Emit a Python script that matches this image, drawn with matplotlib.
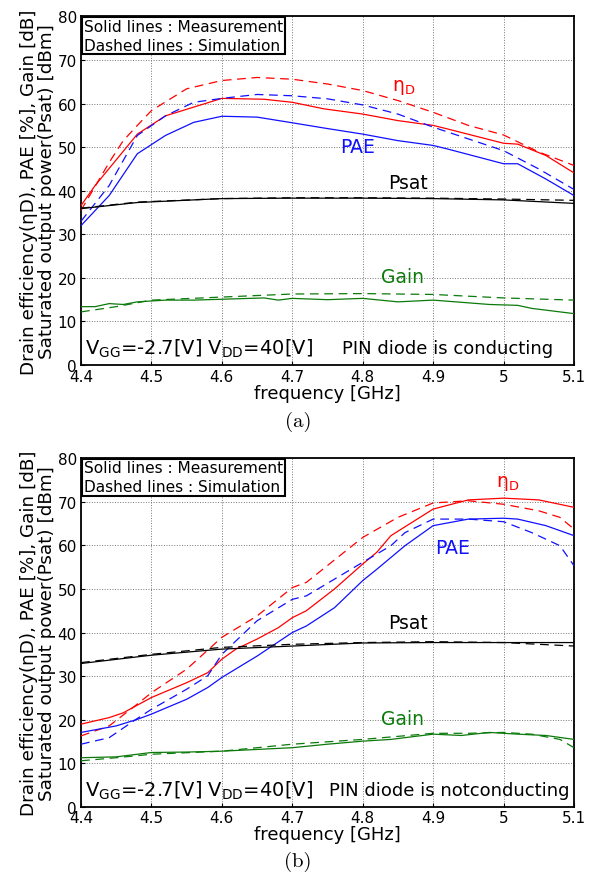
import numpy as np
import matplotlib
matplotlib.use("Agg")
import matplotlib.pyplot as plt

# ---- panel (a): PIN diode conducting ----
a_eta_f = [4.40, 4.42, 4.48, 4.52, 4.60, 4.66, 4.70, 4.745, 4.80, 4.85, 4.90, 4.92, 5.00, 5.02, 5.06, 5.10]
a_eta_m = [36.6, 41.2, 53.0, 57.2, 61.2, 61.0, 60.3, 58.8, 57.6, 56.1, 55.0, 54.2, 50.9, 50.7, 48.1, 44.1]
a_eta_sf = [4.40, 4.42, 4.44, 4.46, 4.48, 4.50, 4.55, 4.60, 4.65, 4.70, 4.75, 4.80, 4.85, 4.90, 4.95, 5.00, 5.05, 5.10]
a_eta_s = [35.5, 41.0, 46.5, 51.5, 55.0, 58.4, 63.4, 65.3, 66.0, 65.6, 64.5, 63.0, 60.7, 58.0, 55.0, 52.8, 48.9, 45.8]

a_pae_f = [4.40, 4.44, 4.48, 4.52, 4.56, 4.60, 4.65, 4.70, 4.745, 4.80, 4.85, 4.90, 4.92, 5.00, 5.02, 5.06, 5.10]
a_pae_m = [32.0, 38.9, 48.5, 52.7, 55.7, 57.1, 56.9, 55.6, 54.4, 53.0, 51.5, 50.4, 49.6, 46.2, 46.2, 42.7, 38.9]
a_pae_sf = [4.40, 4.44, 4.48, 4.52, 4.56, 4.60, 4.65, 4.70, 4.75, 4.80, 4.85, 4.90, 4.95, 5.00, 5.05, 5.10]
a_pae_s = [33.0, 41.2, 52.7, 57.2, 60.3, 61.2, 62.1, 61.8, 61.1, 59.7, 57.6, 54.6, 51.9, 49.2, 45.0, 40.3]

a_psat_f = [4.40, 4.48, 4.60, 4.70, 4.80, 4.90, 5.00, 5.10]
a_psat_m = [35.9, 37.3, 38.2, 38.3, 38.3, 38.2, 37.9, 37.1]
a_psat_s = [36.0, 37.4, 38.2, 38.4, 38.4, 38.3, 38.1, 37.8]

a_gain_f = [4.40, 4.42, 4.44, 4.46, 4.48, 4.52, 4.56, 4.60, 4.66, 4.68, 4.70, 4.75, 4.80, 4.85, 4.90, 4.94, 4.98, 5.02, 5.04, 5.10]
a_gain_m = [13.4, 13.4, 14.1, 13.9, 14.5, 14.9, 14.9, 15.1, 15.4, 14.9, 15.3, 15.0, 15.3, 14.5, 14.9, 14.4, 13.9, 13.7, 13.0, 11.8]
a_gain_sf = [4.40, 4.45, 4.50, 4.60, 4.70, 4.80, 4.90, 5.00, 5.10]
a_gain_s = [12.2, 13.4, 14.9, 15.6, 16.3, 16.4, 16.2, 15.4, 14.9]

# ---- panel (b): PIN diode not conducting ----
b_eta_f = [4.40, 4.44, 4.46, 4.50, 4.55, 4.58, 4.60, 4.62, 4.65, 4.68, 4.70, 4.72, 4.76, 4.80, 4.82, 4.84, 4.90, 4.95, 5.00, 5.05, 5.10]
b_eta_m = [19.0, 20.5, 21.6, 25.1, 28.5, 30.8, 33.9, 36.2, 38.5, 41.1, 43.4, 45.0, 50.0, 55.7, 58.4, 62.2, 68.3, 70.4, 70.8, 70.4, 68.7]
b_eta_sf = [4.40, 4.44, 4.48, 4.50, 4.55, 4.60, 4.65, 4.70, 4.72, 4.80, 4.85, 4.90, 4.95, 5.00, 5.05, 5.08, 5.10]
b_eta_s = [16.3, 18.6, 23.6, 26.2, 31.6, 38.9, 43.8, 50.3, 51.5, 61.8, 66.4, 69.7, 70.2, 69.4, 67.9, 66.4, 63.7]

b_pae_f = [4.40, 4.45, 4.48, 4.50, 4.55, 4.58, 4.60, 4.65, 4.70, 4.72, 4.76, 4.80, 4.82, 4.86, 4.90, 4.95, 5.00, 5.02, 5.06, 5.10]
b_pae_m = [17.1, 18.6, 20.1, 21.3, 24.7, 27.4, 29.7, 34.6, 40.0, 41.5, 45.7, 51.9, 54.5, 59.9, 64.5, 66.0, 66.2, 66.0, 64.5, 62.2]
b_pae_sf = [4.40, 4.44, 4.48, 4.50, 4.55, 4.58, 4.60, 4.65, 4.70, 4.72, 4.80, 4.84, 4.86, 4.90, 4.95, 5.00, 5.04, 5.08, 5.10]
b_pae_s = [14.4, 15.9, 20.3, 22.4, 27.0, 30.1, 35.0, 42.7, 47.6, 48.4, 56.1, 59.9, 62.9, 66.0, 66.0, 65.4, 62.9, 59.9, 55.3]

b_psat_f = [4.40, 4.50, 4.60, 4.70, 4.80, 4.90, 5.00, 5.10]
b_psat_m = [32.9, 34.8, 36.2, 36.9, 37.6, 37.7, 37.7, 37.7]
b_psat_s = [33.1, 35.0, 36.6, 37.3, 37.7, 37.9, 37.7, 36.9]

b_gain_f = [4.40, 4.45, 4.50, 4.55, 4.60, 4.65, 4.70, 4.75, 4.80, 4.84, 4.90, 4.94, 4.98, 5.02, 5.06, 5.10]
b_gain_m = [11.3, 11.5, 12.5, 12.6, 12.8, 13.2, 13.6, 14.4, 15.1, 15.5, 16.7, 16.4, 17.1, 16.7, 16.4, 15.5]
b_gain_sf = [4.40, 4.45, 4.50, 4.60, 4.70, 4.80, 4.90, 4.95, 5.00, 5.04, 5.08, 5.10]
b_gain_s = [10.6, 11.3, 12.1, 12.8, 14.4, 15.5, 16.9, 16.9, 17.1, 16.7, 15.5, 13.6]

RED = '#ff0000'
BLUE = '#1010ff'
GREEN = '#0b7a0b'
BLACK = '#000000'

fig = plt.figure(figsize=(5.97, 8.78), dpi=100)


def draw_panel(ax, series, labels, diode_text, diode_x):
    for f, v, color, ls in series:
        if ls == '--':
            ax.plot(f, v, color=color, linewidth=0.9, dashes=(7, 4.5), zorder=3)
        else:
            ax.plot(f, v, color=color, linewidth=0.9, zorder=3)
    ax.set_xlim(4.4, 5.1)
    ax.set_ylim(0, 80)
    ax.set_xticks(np.arange(4.4, 5.101, 0.1))
    ax.set_xticklabels(['4.4', '4.5', '4.6', '4.7', '4.8', '4.9', '5', '5.1'])
    ax.set_yticks(np.arange(0, 81, 10))
    ax.grid(True, linestyle=':', color='#777777', linewidth=0.7)
    ax.tick_params(direction='in', length=3, labelsize=11)
    ax.tick_params(axis='x', pad=2.5)
    ax.tick_params(axis='y', pad=3)
    for s in ax.spines.values():
        s.set_linewidth(1.3)
    ax.set_xlabel('frequency [GHz]', fontsize=13, labelpad=0)
    ax.text(0.006, 0.993, 'Solid lines : Measurement\nDashed lines : Simulation',
            transform=ax.transAxes, ha='left', va='top', fontsize=11.1,
            linespacing=1.3,
            bbox=dict(boxstyle='square,pad=0.12', facecolor='white',
                      edgecolor='black', linewidth=1.5), zorder=5)
    ax.text(0.008, 0.05, r'V$_{\mathrm{GG}}$=-2.7[V] V$_{\mathrm{DD}}$=40[V]',
            transform=ax.transAxes, ha='left', va='center', fontsize=14)
    ax.text(diode_x, 0.05, diode_text, transform=ax.transAxes,
            ha='right', va='center', fontsize=13)
    for x, y, txt, color in labels:
        ax.text(x, y, txt, color=color, ha='center', va='center', fontsize=13.5, zorder=4)


ax1 = fig.add_axes([0.1357, 0.5831, 0.8258, 0.397])
draw_panel(ax1, [
    (a_eta_f, a_eta_m, RED, '-'), (a_eta_sf, a_eta_s, RED, '--'),
    (a_pae_f, a_pae_m, BLUE, '-'), (a_pae_sf, a_pae_s, BLUE, '--'),
    (a_psat_f, a_psat_m, BLACK, '-'), (a_psat_f, a_psat_s, BLACK, '--'),
    (a_gain_f, a_gain_m, GREEN, '-'), (a_gain_sf, a_gain_s, GREEN, '--'),
], [
    (4.858, 64.0, r'η$_{\mathrm{D}}$', RED),
    (4.792, 50.2, 'PAE', BLUE),
    (4.864, 42.0, 'Psat', BLACK),
    (4.856, 20.4, 'Gain', GREEN),
], 'PIN diode is conducting', 0.957)

ax2 = fig.add_axes([0.1357, 0.0797, 0.8258, 0.3975])
draw_panel(ax2, [
    (b_eta_f, b_eta_m, RED, '-'), (b_eta_sf, b_eta_s, RED, '--'),
    (b_pae_f, b_pae_m, BLUE, '-'), (b_pae_sf, b_pae_s, BLUE, '--'),
    (b_psat_f, b_psat_m, BLACK, '-'), (b_psat_f, b_psat_s, BLACK, '--'),
    (b_gain_f, b_gain_m, GREEN, '-'), (b_gain_sf, b_gain_s, GREEN, '--'),
], [
    (5.006, 74.5, r'η$_{\mathrm{D}}$', RED),
    (4.927, 59.6, 'PAE', BLUE),
    (4.864, 42.4, 'Psat', BLACK),
    (4.856, 20.4, 'Gain', GREEN),
], 'PIN diode is notconducting', 0.99)

ylab = 'Drain efficiency(ηD), PAE [%], Gain [dB]\nSaturated output power(Psat) [dBm]'
for ax in (ax1, ax2):
    ax.set_ylabel(ylab, fontsize=13.2, linespacing=1.0, labelpad=1)

fig.text(0.499, 1 - 422 / 878, '(a)', ha='center', va='center', fontsize=15, family='cmr10')
fig.text(0.499, 1 - 862 / 878, '(b)', ha='center', va='center', fontsize=15, family='cmr10')

fig.savefig('out.png', dpi=100, facecolor='white')
